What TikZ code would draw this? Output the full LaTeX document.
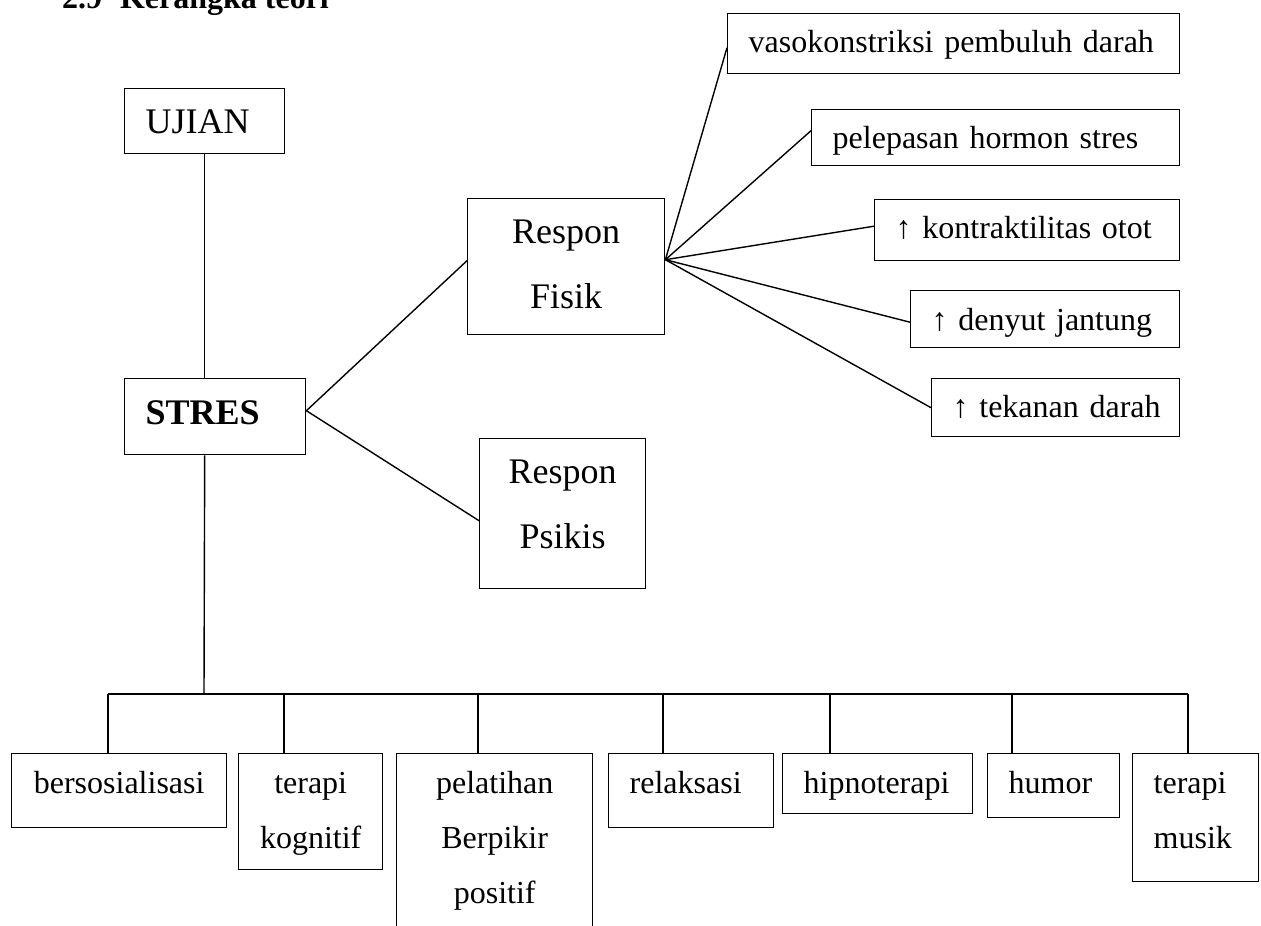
\documentclass[tikz,border=0pt]{standalone}
\usepackage{fontspec}
\setmainfont{Liberation Serif}
\hyphenpenalty=10000
\exhyphenpenalty=10000

\begin{document}
\begin{tikzpicture}
  [x=1pt, y=-1pt, line width=1.4pt]

  \tikzstyle{box} = [draw, anchor=north west, inner ysep=0pt, inner xsep=21pt,
                     align=left, font=\fontsize{32}{55}\selectfont]
  \tikzstyle{bigbox} = [box, font=\fontsize{36}{65}\selectfont]

  \useasboundingbox (0,0) rectangle (1261,926);
  \clip (0,0) rectangle (1261,926);

  \node[anchor=base west, font=\bfseries\fontsize{32}{38}\selectfont] (judul) at (58,9)
       {2.9\hspace{18pt}Kerangka teori};

  % pusat
  \node[bigbox, text width=118pt, text height=45pt, text depth=20pt] (ujian) at (124,88) {UJIAN};
  \node[bigbox, text width=139pt, text height=46pt, text depth=30pt] (stres) at (124,378) {\bfseries STRES};
  \node[bigbox, align=center, text width=155pt, text height=45pt, text depth=91pt]  (fisik)  at (467,198) {Respon\\Fisik};
  \node[bigbox, align=center, text width=124pt, text height=45pt, text depth=105pt] (psikis) at (479,438) {Respon\\Psikis};

  % respon fisik
  \node[box, text width=410pt, text height=39pt, text depth=21pt] (vaso)    at (727,13)  {\mbox{vasokonstriksi pembuluh darah}};
  \node[box, text width=326pt, text height=39pt, text depth=17pt] (hormon)  at (811,109) {\mbox{pelepasan hormon stres}};
  \node[box, text width=263pt, text height=39pt, text depth=22pt] (otot)    at (874,199) {\mbox{↑ kontraktilitas otot}};
  \node[box, text width=227pt, text height=40pt, text depth=17pt] (jantung) at (910,290) {\mbox{↑ denyut jantung}};
  \node[box, text width=206pt, text height=39pt, text depth=19pt] (darah)   at (931,378) {\mbox{↑ tekanan darah}};

  % penanganan
  \node[box, align=center, text width=173pt, text height=40pt, text depth=34pt]  (bers)     at (11,753)  {bersosialisasi};
  \node[box, align=center, text width=102pt, text height=40pt, text depth=76pt]  (kognitif) at (238,753) {terapi\\kognitif};
  \node[box, align=center, text width=154pt, text height=40pt, text depth=160pt] (latih)    at (396,753) {pelatihan\\Berpikir\\positif};
  \node[box, text width=123pt, text height=40pt, text depth=34pt] (relaks) at (608,753)  {relaksasi};
  \node[box, text width=148pt, text height=40pt, text depth=20pt] (hipno)  at (782,753)  {hipnoterapi};
  \node[box, text width=90pt,  text height=40pt, text depth=24pt] (humor)  at (987,753)  {humor};
  \node[box, text width=84pt,  text height=40pt, text depth=88pt] (musik)  at (1132,753) {terapi\\musik};

  \coordinate (hub) at (204,694);
  \coordinate (fan) at ([yshift=7pt]fisik.east);

  \path[draw]
        (ujian.south) edge (ujian.south |- stres.north)
        (ujian.south |- stres.south) edge (hub)
        ([yshift=6pt]stres.east) edge ([yshift=6pt]fisik.west)
        ([yshift=6pt]stres.east) edge ([yshift=-7pt]psikis.west)
        (fan) edge ([yshift=-4pt]vaso.west)
              edge ([yshift=7pt]hormon.west)
              edge ([yshift=4pt]otot.west)
              edge ([yshift=-3pt]jantung.west)
              edge (darah.west);

  \foreach \n/\x in {bers/108, kognitif/284, latih/478, relaks/663, hipno/830, humor/1012, musik/1188}
  {
    \coordinate (d-\n) at (\x,694);
    \draw (d-\n) -- (d-\n |- \n.north);
  }
  \draw (d-bers) -- (d-musik);
\end{tikzpicture}
\end{document}
